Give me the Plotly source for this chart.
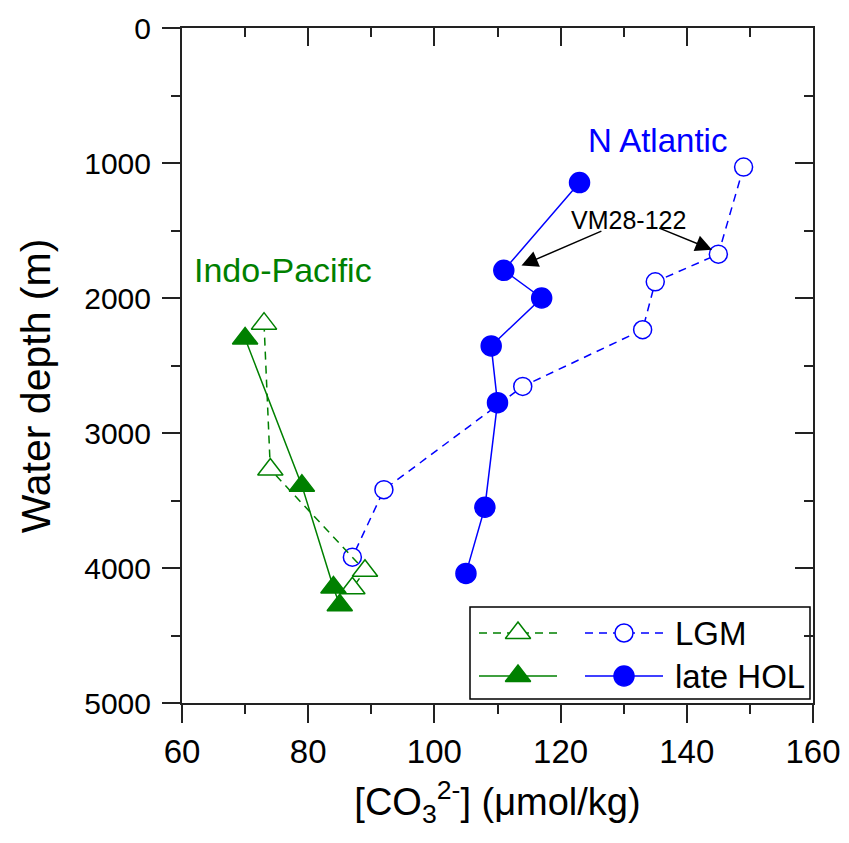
import plotly.graph_objects as go

# ---- data ----
na_lgm_x = [149, 145, 135, 133, 114, 92, 87]
na_lgm_y = [1030, 1675, 1880, 2235, 2655, 3420, 3920]
na_hol_x = [123, 111, 117, 109, 110, 108, 105]
na_hol_y = [1145, 1795, 2000, 2355, 2775, 3550, 4040]
ip_lgm_x = [73, 74, 89, 87]
ip_lgm_y = [2190, 3270, 4020, 4150]
ip_hol_x = [70, 79, 84, 85]
ip_hol_y = [2300, 3390, 4145, 4275]

x_range = [60, 160]
y_range = [5000, 0]
legend_labels = ["LGM", "late HOL"]

BLUE = "#0000ff"
GREEN = "#008000"
FONT = "Liberation Sans, Arial, sans-serif"
DASH = "8px,6px"

STYLES = {
    "ip_lgm": dict(color=GREEN, dash=DASH, symbol="triangle-up", fill="white", size=22),
    "ip_hol": dict(color=GREEN, dash="solid", symbol="triangle-up", fill=GREEN, size=22),
    "na_lgm": dict(color=BLUE, dash=DASH, symbol="circle", fill="white", size=18),
    "na_hol": dict(color=BLUE, dash="solid", symbol="circle", fill=BLUE, size=20),
}

fig = go.Figure()


def series(x, y, st, **kw):
    fig.add_trace(go.Scatter(
        x=x, y=y, mode="lines+markers",
        line=dict(color=st["color"], width=1.5, dash=st["dash"]),
        marker=dict(symbol=st["symbol"], size=st["size"], color=st["fill"], opacity=1,
                    line=dict(color=st["color"], width=1.5)),
        showlegend=False, hoverinfo="skip", **kw))


series(na_lgm_x, na_lgm_y, STYLES["na_lgm"])
series(na_hol_x, na_hol_y, STYLES["na_hol"])
series(ip_lgm_x, ip_lgm_y, STYLES["ip_lgm"])
series(ip_hol_x, ip_hol_y, STYLES["ip_hol"])

# mirror axes (top/right) with inward ticks
fig.add_trace(go.Scatter(x=[None], y=[None], xaxis="x2", yaxis="y2",
                         showlegend=False, hoverinfo="skip"))

# ---- manual legend drawn in pixel-like helper axes (window pixel units) ----
L = dict(left=182, right=813, top=28, bottom=703,
         box=(470, 607, 810, 699), rows=(633, 676),
         g=(479, 518, 557), b=(585, 624, 663), text_x=673)

legend_items = [
    (L["g"], L["rows"][0], STYLES["ip_lgm"]),
    (L["g"], L["rows"][1], STYLES["ip_hol"]),
    (L["b"], L["rows"][0], STYLES["na_lgm"]),
    (L["b"], L["rows"][1], STYLES["na_hol"]),
]
for xs, yr, st in legend_items:
    fig.add_trace(go.Scatter(
        x=[xs[0], xs[2]], y=[yr, yr], mode="lines", xaxis="x3", yaxis="y3",
        line=dict(color=st["color"], width=1.5, dash=st["dash"]),
        showlegend=False, hoverinfo="skip"))
    fig.add_trace(go.Scatter(
        x=[xs[1]], y=[yr], mode="markers", xaxis="x3", yaxis="y3",
        marker=dict(symbol=st["symbol"], size=st["size"], color=st["fill"], opacity=1,
                    line=dict(color=st["color"], width=1.5)),
        showlegend=False, hoverinfo="skip"))

axis_common = dict(showgrid=False, zeroline=False, showline=True, automargin=False,
                   linecolor="#222", linewidth=2, tickcolor="#222",
                   tickwidth=2, ticklen=18)

# page body has an 8px default margin, so the figure is 8px smaller and margins compensate
fig.update_layout(
    width=841, height=835,
    margin=dict(l=174, r=36, t=20, b=140, autoexpand=False),
    paper_bgcolor="white", plot_bgcolor="white",
    font=dict(family=FONT, color="black"),
    xaxis=dict(range=x_range, dtick=20, tick0=60, ticks="outside",
               tickfont=dict(size=33, family=FONT), ticklabelstandoff=0,
               minor=dict(ticks="outside", ticklen=9, dtick=10, tickwidth=2, tickcolor="#222"),
               title=dict(text="[CO<sub>3</sub><sup>2-</sup>] (μmol/kg)",
                          font=dict(size=38, family=FONT), standoff=20),
               **axis_common),
    yaxis=dict(range=y_range, dtick=1000, tick0=0, ticks="outside",
               tickfont=dict(size=30, family=FONT), ticklabelstandoff=5,
               minor=dict(ticks="outside", ticklen=9, dtick=500, tickwidth=2, tickcolor="#222"),
               **axis_common),
    xaxis2=dict(range=x_range, overlaying="x", side="top", anchor="y2",
                dtick=20, tick0=60, ticks="inside", showticklabels=False,
                minor=dict(ticks="inside", ticklen=9, dtick=10, tickwidth=2, tickcolor="#222"),
                **axis_common),
    yaxis2=dict(range=y_range, overlaying="y", side="right", anchor="x2",
                dtick=1000, tick0=0, ticks="inside", showticklabels=False,
                minor=dict(ticks="inside", ticklen=9, dtick=500, tickwidth=2, tickcolor="#222"),
                **axis_common),
    xaxis3=dict(range=[L["left"], L["right"]], overlaying="x", anchor="y3", visible=False),
    yaxis3=dict(range=[L["bottom"], L["top"]], overlaying="y", anchor="x3", visible=False),
)

# y-axis title placed as rotated annotation
fig.add_annotation(x=-0.232, y=0.47, xref="paper", yref="paper",
                   text="Water depth (m)", textangle=-90, showarrow=False,
                   xanchor="center", yanchor="middle",
                   font=dict(size=41, family=FONT, color="black"))

bx0, by0, bx1, by1 = L["box"]
fig.add_shape(type="rect", xref="x3", yref="y3", x0=bx0, y0=by0, x1=bx1, y1=by1,
              line=dict(color="black", width=1.5), fillcolor="white", layer="below")
for label, yr in zip(legend_labels, L["rows"]):
    fig.add_annotation(x=L["text_x"], y=yr, xref="x3", yref="y3", text=label,
                       showarrow=False, xanchor="left", yanchor="middle",
                       font=dict(size=33, family=FONT, color="black"))

# text labels
fig.add_annotation(x=135.4, y=830, text="N Atlantic", showarrow=False,
                   font=dict(size=33, family=FONT, color=BLUE))
fig.add_annotation(x=76.0, y=1790, text="Indo-Pacific", showarrow=False,
                   font=dict(size=34, family=FONT, color=GREEN))
fig.add_annotation(x=130.8, y=1420, text="VM28-122", showarrow=False,
                   font=dict(size=25, family=FONT, color="black"))
# arrows pointing to core VM28-122
for hx, hy, tx, ty in [(113.8, 1760, 126.7, 1500),
                       (144.0, 1642, 135.4, 1478)]:
    fig.add_annotation(x=hx, y=hy, ax=tx, ay=ty, xref="x", yref="y",
                       axref="x", ayref="y", text="", showarrow=True,
                       arrowhead=2, arrowsize=2.2, arrowwidth=1.5,
                       arrowcolor="black", standoff=0, startstandoff=0)

fig.write_html("out.html")
